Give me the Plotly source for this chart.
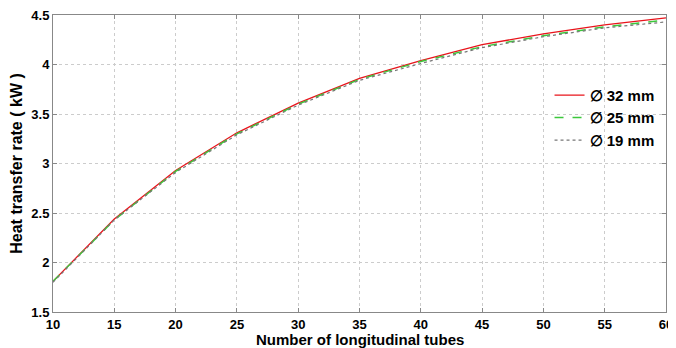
import plotly.graph_objects as go

tubes = [10, 15, 20, 25, 30, 35, 40, 45, 50, 55, 60]
q_32mm = [1.81, 2.44, 2.93, 3.31, 3.61, 3.86, 4.04, 4.20, 4.31, 4.40, 4.47]
q_25mm = [1.81, 2.43, 2.92, 3.30, 3.60, 3.85, 4.03, 4.18, 4.29, 4.38, 4.45]
q_19mm = [1.80, 2.43, 2.91, 3.29, 3.59, 3.84, 4.01, 4.17, 4.28, 4.37, 4.43]
labels = ["\u2205 32 mm", "\u2205 25 mm", "\u2205 19 mm"]
x_ticks = [10, 15, 20, 25, 30, 35, 40, 45, 50, 55, 60]
y_ticks = [1.5, 2, 2.5, 3, 3.5, 4, 4.5]
y_ticktext = ["1.5", "2", "2.5", "3", "3.5", "4", "4.5"]
x_title = "Number of longitudinal tubes"
y_title = "Heat transfer rate ( kW )"

FONT = "Liberation Sans, Arial, sans-serif"

fig = go.Figure()
fig.add_trace(go.Scatter(x=tubes, y=q_32mm, mode="lines", name=labels[0],
                         line=dict(color="#e8141b", width=1.3)))
fig.add_trace(go.Scatter(x=tubes, y=q_25mm, mode="lines", name=labels[1],
                         line=dict(color="#3cc83c", width=1.5, dash="dash")))
fig.add_trace(go.Scatter(x=tubes, y=q_19mm, mode="lines", name=labels[2],
                         line=dict(color="#777777", width=1.2, dash="dot")))

axis_common = dict(
    showline=True, linecolor="#888888", linewidth=1, mirror="ticks",
    ticks="inside", ticklen=4, tickcolor="#888888",
    showgrid=True, gridcolor="#cccccc", griddash="dot", gridwidth=1,
    zeroline=False, automargin=False, ticklabeloverflow="allow",
    tickfont=dict(family=FONT, size=13, color="#000000", weight="bold"),
)

# the page body has an 8px margin; the figure is offset by it inside the window
fig.update_layout(
    width=668, height=340,
    margin=dict(l=45, r=10, t=7, b=36, autoexpand=False),
    paper_bgcolor="white", plot_bgcolor="white",
    font=dict(family=FONT, color="#000000"),
    xaxis=dict(range=[10, 60], tickvals=x_ticks, **axis_common),
    yaxis=dict(range=[1.5, 4.5], tickvals=y_ticks, ticktext=y_ticktext,
               title=dict(text="<b>" + y_title + "</b>",
                          font=dict(family=FONT, size=16), standoff=6),
               **axis_common),
    legend=dict(x=0.81, y=0.785, xanchor="left", yanchor="top",
                bgcolor="rgba(0,0,0,0)", borderwidth=0,
                font=dict(family=FONT, size=15, color="#000000", weight="bold"),
                itemwidth=30, tracegroupgap=0),
    showlegend=True,
    annotations=[dict(text="<b>" + x_title + "</b>", xref="paper", yref="paper",
                      x=0.5, y=0, xanchor="center", yanchor="middle",
                      yshift=-27, showarrow=False,
                      font=dict(family=FONT, size=15, color="#000000"))],
)

fig.write_html("out.html")
